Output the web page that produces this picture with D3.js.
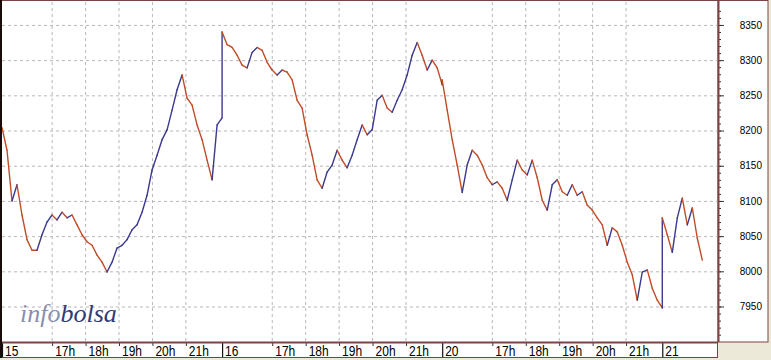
<!DOCTYPE html>
<html>
<head>
<meta charset="utf-8">
<script src="https://cdn.jsdelivr.net/npm/d3@7"></script>
<style>
  html, body { margin: 0; padding: 0; background: #ece9d8; }
  svg { display: block; }
</style>
</head>
<body>
<svg id="chart" width="771" height="360"></svg>
<script>
// sessions shown on the chart, 15:30 - 22:05 each
const days = ['15', '16', '20', '21'];
const hours = ['17h', '18h', '19h', '20h', '21h'];
const priceTicks = [7950, 8000, 8050, 8100, 8150, 8200, 8250, 8300, 8350];

// index values, one every ~9 minutes
const day15 = [8204, 8172, 8100, 8123, 8080, 8045, 8030, 8030, 8052, 8070,
  8080, 8073, 8084, 8076, 8080, 8066, 8052, 8042, 8037, 8023,
  8013, 7999, 8013, 8033, 8037, 8045, 8059, 8066, 8084, 8108,
  8144, 8165, 8187, 8201, 8229, 8258, 8279, 8246, 8236, 8208,
  8187, 8158, 8130, 8208, 8218];
const day16 = [8340, 8322, 8318, 8307, 8293, 8289, 8311, 8318, 8314, 8297,
  8286, 8279, 8286, 8283, 8272, 8243, 8232, 8194, 8165, 8130,
  8118, 8141, 8151, 8172, 8158, 8147, 8165, 8187, 8208, 8194,
  8201, 8243, 8250, 8232, 8226, 8243, 8258, 8279, 8307, 8325,
  8307, 8286, 8300, 8289, 8265];
const day20 = [8272, 8229, 8187, 8151, 8112, 8151, 8172, 8165, 8151, 8133,
  8123, 8127, 8118, 8101, 8130, 8158, 8144, 8137, 8158, 8133,
  8101, 8087, 8123, 8130, 8113, 8108, 8123, 8108, 8113, 8094,
  8087, 8076, 8066, 8037, 8062, 8056, 8037, 8013, 7995, 7959,
  7999, 8002, 7976, 7959, 7948];
const day21 = [8076, 8052, 8027, 8076, 8104, 8066, 8090, 8047, 8016];

const SESSION = 395;
const STEP = SESSION / 44;

const series = [];
[day15, day16, day20, day21].forEach((vals, d) => {
  vals.forEach((v, i) => series.push({t: d * SESSION + i * STEP, v: v}));
});

const plotLeft = 2, plotRight = 718, plotTop = 2, plotBottom = 342;

const x = d3.scaleLinear().domain([0, 3 * SESSION + 100]).range([plotLeft, plotRight]);
const y = d3.scaleLinear().domain([7899.6, 8382.6]).range([plotBottom, plotTop]);

const svg = d3.select('#chart');
const border = '#7a4444';

// panels
svg.append('rect').attr('x', 0).attr('y', 0).attr('width', plotRight).attr('height', plotBottom)
  .attr('fill', '#fff');
svg.append('rect').attr('x', plotRight).attr('y', 0.5).attr('width', 50).attr('height', plotBottom - 0.5)
  .attr('fill', '#fff').attr('stroke', border).attr('stroke-width', 1);
svg.append('rect').attr('x', 0).attr('y', plotBottom).attr('width', plotRight).attr('height', 16)
  .attr('fill', '#fff');

// grid
const hourTicks = [];
days.slice(0, 3).forEach((d, i) => {
  hours.forEach((h, j) => hourTicks.push({t: i * SESSION + 90 + j * 60, label: h}));
});

svg.append('g')
  .selectAll('line')
  .data(hourTicks)
  .join('line')
  .attr('x1', d => x(d.t)).attr('x2', d => x(d.t))
  .attr('y1', plotTop).attr('y2', plotBottom)
  .attr('stroke', '#b8b8b8').attr('stroke-dasharray', '3,3');

svg.append('g')
  .selectAll('line')
  .data(priceTicks)
  .join('line')
  .attr('x1', plotLeft).attr('x2', plotRight)
  .attr('y1', d => y(d) + 0.5).attr('y2', d => y(d) + 0.5)
  .attr('stroke', '#b8b8b8').attr('stroke-dasharray', '3,3');

// logo
const logo = svg.append('text')
  .attr('x', 20).attr('y', 322)
  .style('font-family', '"Liberation Serif", serif')
  .style('font-style', 'italic')
  .style('font-size', '26px');
logo.append('tspan').attr('fill', '#8a8fae').text('info');
logo.append('tspan').attr('fill', '#2f3b78').text('bolsa');

// price line, blue going up and red going down
svg.append('g')
  .selectAll('line')
  .data(d3.pairs(series))
  .join('line')
  .attr('x1', d => x(d[0].t)).attr('y1', d => y(d[0].v))
  .attr('x2', d => x(d[1].t)).attr('y2', d => y(d[1].v))
  .attr('stroke', d => d[1].v > d[0].v ? '#3a3a90' : '#c24c28')
  .attr('stroke-width', 1.4)
  .attr('stroke-linecap', 'round');

// right axis
const yAxis = svg.append('g')
  .attr('transform', `translate(${plotRight},0)`)
  .call(d3.axisRight(y).tickValues(priceTicks).tickSize(6).tickPadding(0).tickFormat(d3.format('d')));
yAxis.select('.domain').remove();
yAxis.selectAll('line').attr('stroke', '#333');
yAxis.selectAll('text')
  .attr('x', 44)
  .attr('text-anchor', 'end')
  .style('font-family', '"Liberation Sans", Arial, sans-serif')
  .style('font-size', '10px')
  .attr('fill', '#000');

svg.append('g')
  .attr('transform', `translate(${plotRight},0)`)
  .call(d3.axisRight(y).tickValues(d3.range(7910, 8380, 10)).tickSize(3).tickFormat(''))
  .call(g => g.select('.domain').remove())
  .selectAll('line').attr('stroke', '#333');

svg.append('line')
  .attr('x1', plotRight + 0.5).attr('x2', plotRight + 0.5).attr('y1', 0).attr('y2', plotBottom)
  .attr('stroke', border).attr('stroke-width', 2);

// bottom axis
const xAxis = svg.append('g')
  .attr('transform', `translate(0,${plotBottom})`)
  .call(d3.axisBottom(x).tickValues(hourTicks.map(d => d.t)).tickSize(4)
    .tickFormat((d, i) => hourTicks[i].label));
xAxis.select('.domain').remove();
xAxis.selectAll('line').attr('stroke', '#333');
xAxis.selectAll('text')
  .attr('text-anchor', 'start')
  .attr('x', 2.5).attr('y', 11.3).attr('dy', 0)
  .attr('transform', 'scale(1,1.25)')
  .style('font-family', '"Liberation Sans", Arial, sans-serif')
  .style('font-size', '12px')
  .attr('fill', '#000');

const dayAxis = svg.append('g')
  .attr('transform', `translate(0,${plotBottom})`)
  .call(d3.axisBottom(x).tickValues(days.map((d, i) => i * SESSION)).tickSize(16)
    .tickFormat((d, i) => days[i]));
dayAxis.select('.domain').remove();
dayAxis.selectAll('line').attr('stroke', '#111').attr('stroke-width', 1.2);
dayAxis.selectAll('text')
  .attr('text-anchor', 'start')
  .attr('x', 2.5).attr('y', 11.3).attr('dy', 0)
  .attr('transform', 'scale(1,1.25)')
  .style('font-family', '"Liberation Sans", Arial, sans-serif')
  .style('font-size', '12px')
  .attr('fill', '#000');

// frame
svg.append('line').attr('x1', 0).attr('x2', plotRight).attr('y1', plotBottom + 0.5).attr('y2', plotBottom + 0.5)
  .attr('stroke', border).attr('stroke-width', 2);
svg.append('line').attr('x1', 0).attr('x2', plotRight).attr('y1', plotBottom + 15.5).attr('y2', plotBottom + 15.5)
  .attr('stroke', border).attr('stroke-width', 1);
svg.append('line').attr('x1', plotRight - 0.5).attr('x2', plotRight - 0.5).attr('y1', plotBottom).attr('y2', plotBottom + 16)
  .attr('stroke', border).attr('stroke-width', 1);
svg.append('line').attr('x1', 0).attr('x2', plotRight).attr('y1', 0.5).attr('y2', 0.5)
  .attr('stroke', border).attr('stroke-width', 1);
svg.append('line').attr('x1', 1).attr('x2', 1).attr('y1', 0).attr('y2', plotBottom + 16)
  .attr('stroke', '#1a0a0a').attr('stroke-width', 2);
</script>
</body>
</html>
